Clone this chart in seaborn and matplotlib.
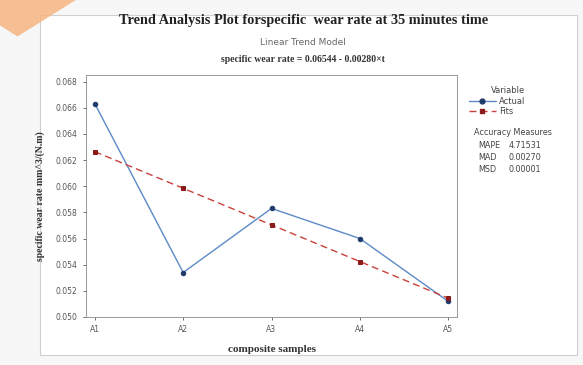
import pandas as pd
import matplotlib.pyplot as plt
import seaborn as sb
from matplotlib.lines import Line2D
from matplotlib.patches import Rectangle, Polygon

samples = ["A1", "A2", "A3", "A4", "A5"]
t_index = [1, 2, 3, 4, 5]
actual = [0.0663, 0.0534, 0.0583, 0.0560, 0.0512]
fits = [0.06264, 0.05984, 0.05704, 0.05424, 0.05144]
measure_names = ["MAPE", "MAD", "MSD"]
measure_values = ["4.71531", "0.00270", "0.00001"]
y_ticks = [0.050, 0.052, 0.054, 0.056, 0.058, 0.060, 0.062, 0.064, 0.066, 0.068]

blue_line = "#5b8ac6"
blue_mark = "#1f3a6b"
red_line = "#c8413a"
red_mark = "#8c1c1c"
serif = ["Liberation Serif", "DejaVu Serif"]

df = pd.DataFrame({
    "t": t_index * 2,
    "value": actual + fits,
    "Variable": ["Actual"] * 5 + ["Fits"] * 5,
})

sb.set_style("white")
plt.rcParams["font.family"] = ["DejaVu Sans"]

fig = plt.figure(figsize=(5.83, 3.65), dpi=100)
fig.patch.set_facecolor("#f7f7f7")
# white panel with grey frame
fig.add_artist(Rectangle((40 / 583, 1 - 355 / 365), 537 / 583, 340 / 365,
                         transform=fig.transFigure, facecolor="white",
                         edgecolor="#d0d0d0", linewidth=0.8, zorder=0))
# orange watermark corner
fig.add_artist(Polygon([(0, 1), (0.13, 1), (0.03, 0.90), (0, 0.93)], closed=True,
                       transform=fig.transFigure, facecolor="#f6b27a",
                       edgecolor="none", alpha=0.8, zorder=1))

ax = fig.add_axes([86 / 583, 1 - 317 / 365, 371 / 583, 242 / 365])
ax.set_facecolor("white")

sb.lineplot(data=df, x="t", y="value", hue="Variable", style="Variable",
            palette={"Actual": blue_line, "Fits": red_line},
            dashes={"Actual": "", "Fits": (5, 3)},
            markers={"Actual": "o", "Fits": "s"},
            markersize=3.2, linewidth=1.0, legend=False, ax=ax)
for line, mc in zip(ax.get_lines(), [blue_mark, red_mark]):
    line.set_markerfacecolor(mc)
    line.set_markeredgecolor(mc)

ax.set_xlim(0.9, 5.1)
ax.set_ylim(0.050, 0.0685)
ax.set_xticks(t_index)
ax.set_xticklabels(samples)
ax.set_yticks(y_ticks)
ax.set_yticklabels([f"{v:.3f}" for v in y_ticks])
ax.tick_params(axis="both", labelsize=5.5, colors="#555555", length=2.5, width=0.6,
               left=True, bottom=True)
for s in ax.spines.values():
    s.set_color("#999999")
    s.set_linewidth(0.7)

ax.set_xlabel("composite samples", family=serif, fontsize=8, fontweight="bold",
              color="#333333", labelpad=8)
ax.set_ylabel("specific wear rate mm^3/(N.m)", family=serif, fontsize=7,
              fontweight="bold", color="#333333", labelpad=8)

fig.text(0.52, 0.945, "Trend Analysis Plot forspecific  wear rate at 35 minutes time",
         ha="center", va="center", family=serif, fontsize=10.3, fontweight="bold",
         color="#222222")
fig.text(0.52, 0.883, "Linear Trend Model", ha="center", va="center",
         fontsize=6.5, color="#666666")
fig.text(0.52, 0.836, "specific wear rate = 0.06544 - 0.00280×t", ha="center",
         va="center", family=serif, fontsize=7, fontweight="bold", color="#333333")

handles = [Line2D([], [], color=blue_line, marker="o", markersize=3.5,
                  markerfacecolor=blue_mark, markeredgecolor=blue_mark, linewidth=1.0),
           Line2D([], [], color=red_line, marker="s", markersize=3.5, linestyle=(0, (5, 3)),
                  markerfacecolor=red_mark, markeredgecolor=red_mark, linewidth=1.0)]
leg = fig.legend(handles, ["Actual", "Fits"], title="Variable",
                 loc="upper left", bbox_to_anchor=(463 / 583, 1 - 80 / 365),
                 frameon=False, fontsize=6, title_fontsize=6,
                 handlelength=3.2, handletextpad=0.4, labelspacing=0.2,
                 borderpad=0.2)
leg._legend_box.align = "right"
for txt in leg.get_texts():
    txt.set_color("#444444")
leg.get_title().set_color("#444444")

fig.text(474 / 583, 1 - 133 / 365, "Accuracy Measures", fontsize=5.8,
         color="#444444", va="center")
for k, (name, val) in enumerate(zip(measure_names, measure_values)):
    yy = 1 - (145 + 12 * k) / 365
    fig.text(478 / 583, yy, name, fontsize=5.8, color="#444444", va="center")
    fig.text(541 / 583, yy, val, fontsize=5.8, color="#444444", va="center", ha="right")

plt.savefig("out.png", dpi=100)
